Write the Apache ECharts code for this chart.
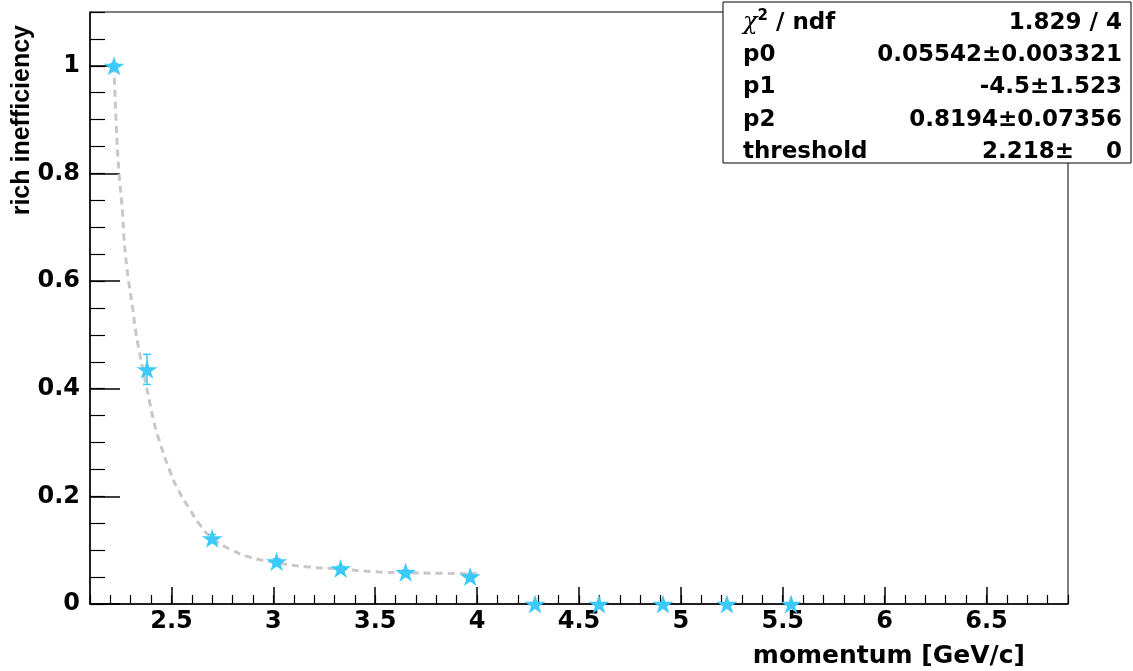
<!DOCTYPE html>
<html>
<head>
<meta charset="utf-8">
<title>rich inefficiency</title>
<script src="https://cdn.jsdelivr.net/npm/echarts@6/dist/echarts.min.js"></script>
<style>
    html, body { margin: 0; padding: 0; background: #fff; }
    #main { width: 1133px; height: 671px; }
</style>
</head>
<body>
<div id="main"></div>
<script>
// measured points (stars)
const momentum = [2.218, 2.380, 2.700, 3.016, 3.330, 3.649, 3.966, 4.284, 4.598, 4.912, 5.226, 5.541];
const inefficiency = [1.0, 0.436, 0.122, 0.079, 0.066, 0.059, 0.051, 0, 0, 0, 0, 0];
const inefficiencyErr = [0.004, 0.028, 0.007, 0.005, 0.004, 0.004, 0.004, 0, 0, 0, 0, 0];

// fit curve
const fitMomentum = [2.218, 2.228, 2.242, 2.259, 2.267, 2.280, 2.293, 2.308, 2.321, 2.337, 2.370, 2.390, 2.411, 2.437,
    2.493, 2.533, 2.591, 2.640, 2.700, 2.787, 2.885, 3.016, 3.164, 3.327, 3.490, 3.654, 3.818, 4.0];
const fitValue = [1.0, 0.896, 0.803, 0.730, 0.678, 0.628, 0.591, 0.554, 0.516, 0.479, 0.417, 0.380, 0.343, 0.307,
    0.246, 0.212, 0.175, 0.147, 0.122, 0.102, 0.087, 0.077, 0.069, 0.065, 0.060, 0.058, 0.057, 0.056];

// axis ticks
const xMajorTicks = [2.5, 3, 3.5, 4, 4.5, 5, 5.5, 6, 6.5];
const yMajorTicks = [0, 0.2, 0.4, 0.6, 0.8, 1];

// fit statistics box
const statNames = ['{chi|χ}{sup|2}{b| / ndf}', 'p0', 'p1', 'p2', 'threshold'];
const statValues = ['1.829 / 4', '0.05542±0.003321', '-4.5±1.523', '0.8194±0.07356', '2.218±    0'];

const starColor = '#3ccafa';
const labelFont = 'DejaVu Sans';
const starPath = 'path://M50,0 L61,35 L98,35 L68,57 L79,91 L50,70 L21,91 L32,57 L2,35 L39,35 Z';

let myChart = echarts.init(document.getElementById('main'));

const gridBox = {left: 90, right: 65, top: 12, bottom: 67};
const statRowY = [23, 55, 87.5, 120, 152];

let statGraphics = [{
    type: 'rect',
    shape: {x: 723, y: 2, width: 408, height: 161},
    style: {fill: '#fff', stroke: '#000', lineWidth: 1},
    z: 100
}];
statNames.forEach((name, i) => {
    statGraphics.push({
        type: 'text', x: 743, y: statRowY[i], z: 101,
        style: {
            text: name, fill: '#000', align: 'left', verticalAlign: 'middle',
            font: 'bold 23px ' + labelFont,
            rich: {
                chi: {fontFamily: 'DejaVu Serif', fontStyle: 'italic', fontSize: 24, fill: '#000'},
                sup: {fontFamily: labelFont, fontWeight: 'bold', fontSize: 15, fill: '#000', padding: [0, 0, 14, 0]},
                b: {fontFamily: labelFont, fontWeight: 'bold', fontSize: 23, fill: '#000'}
            }
        }
    });
    statGraphics.push({
        type: 'text', x: 1122, y: statRowY[i], z: 101,
        style: {
            text: statValues[i], fill: '#000', align: 'right', verticalAlign: 'middle',
            font: 'bold 23px ' + labelFont
        }
    });
});

myChart.setOption({
    backgroundColor: '#fff',
    animation: false,
    grid: [
        Object.assign({show: true, borderColor: '#000', borderWidth: 1, backgroundColor: 'transparent'}, gridBox),
        Object.assign({show: false}, gridBox)
    ],
    xAxis: [{
        type: 'value', gridIndex: 0, min: 2.1, max: 6.9,
        axisLine: {show: true, onZero: false, lineStyle: {color: '#000', width: 1.5}},
        axisTick: {show: true, inside: true, length: 17, customValues: xMajorTicks, lineStyle: {color: '#000', width: 1.5}},
        axisLabel: {
            show: true, customValues: xMajorTicks, margin: 6,
            color: '#000', fontFamily: labelFont, fontWeight: 'bold', fontSize: 24
        },
        splitLine: {show: false}
    }, {
        type: 'value', gridIndex: 1, min: 2.1, max: 6.9, interval: 0.1,
        axisLine: {show: false},
        axisTick: {show: true, inside: true, length: 9, lineStyle: {color: '#000', width: 1.2}},
        axisLabel: {show: false},
        splitLine: {show: false}
    }],
    yAxis: [{
        type: 'value', gridIndex: 0, min: 0, max: 1.1,
        axisLine: {show: true, onZero: false, lineStyle: {color: '#000', width: 1.5}},
        axisTick: {show: true, inside: true, length: 30, customValues: yMajorTicks, lineStyle: {color: '#000', width: 1.5}},
        axisLabel: {
            show: true, customValues: yMajorTicks, margin: 10,
            color: '#000', fontFamily: labelFont, fontWeight: 'bold', fontSize: 24
        },
        splitLine: {show: false}
    }, {
        type: 'value', gridIndex: 1, min: 0, max: 1.1, interval: 0.05,
        axisLine: {show: false},
        axisTick: {show: true, inside: true, length: 15, lineStyle: {color: '#000', width: 1.2}},
        axisLabel: {show: false},
        splitLine: {show: false}
    }],
    series: [{
        type: 'line',
        name: 'fit',
        xAxisIndex: 0, yAxisIndex: 0,
        data: fitMomentum.map((m, i) => [m, fitValue[i]]),
        smooth: true,
        showSymbol: false,
        lineStyle: {color: '#c8c8c8', width: 3, type: [7, 5]},
        z: 2
    }, {
        type: 'custom',
        name: 'errors',
        xAxisIndex: 0, yAxisIndex: 0,
        data: momentum.map((m, i) => [m, inefficiency[i], inefficiencyErr[i]]),
        renderItem: function (params, api) {
            let e = api.value(2);
            if (!e) return;
            let top = api.coord([api.value(0), api.value(1) + e]);
            let bot = api.coord([api.value(0), api.value(1) - e]);
            let st = {stroke: starColor, lineWidth: 1.5};
            return {
                type: 'group',
                children: [
                    {type: 'line', shape: {x1: top[0], y1: top[1], x2: bot[0], y2: bot[1]}, style: st},
                    {type: 'line', shape: {x1: top[0] - 4, y1: top[1], x2: top[0] + 4, y2: top[1]}, style: st},
                    {type: 'line', shape: {x1: bot[0] - 4, y1: bot[1], x2: bot[0] + 4, y2: bot[1]}, style: st}
                ]
            };
        },
        clip: false,
        z: 3
    }, {
        type: 'scatter',
        name: 'data',
        xAxisIndex: 0, yAxisIndex: 0,
        data: momentum.map((m, i) => [m, inefficiency[i]]),
        symbol: starPath,
        symbolSize: [21, 19],
        itemStyle: {color: starColor, opacity: 1},
        clip: false,
        z: 4
    }],
    graphic: [{
        type: 'text', x: 22, y: 25, rotation: Math.PI / 2,
        style: {
            text: 'rich inefficiency', fill: '#000', align: 'right', verticalAlign: 'middle',
            font: 'bold 25px "Liberation Sans"'
        }
    }, {
        type: 'text', x: 1025, y: 656,
        style: {
            text: 'momentum [GeV/c]', fill: '#000', align: 'right', verticalAlign: 'middle',
            font: 'bold 25px ' + labelFont
        }
    }].concat(statGraphics)
});

window.addEventListener('resize', function () {
    myChart.resize();
});
</script>
</body>
</html>
